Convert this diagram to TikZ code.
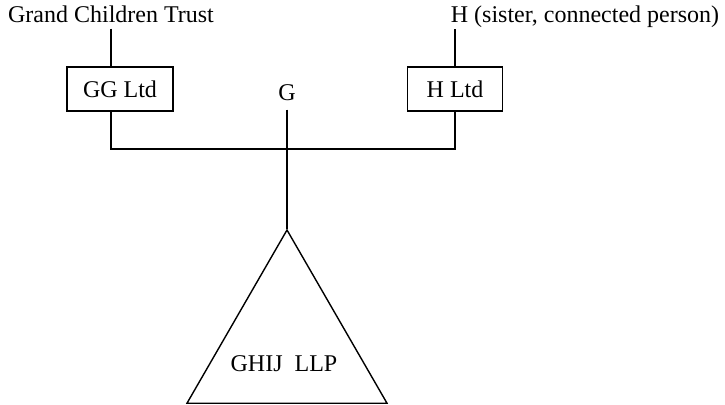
\documentclass[tikz,border=0pt]{standalone}
\usepackage{fontspec}
\setmainfont{Liberation Serif}
\usepackage{tikz}
\usetikzlibrary{shapes.geometric, positioning, calc}
\definecolor{mydark}{RGB}{0,0,0}
\tikzset{
  owner/.style={font=\fontsize{24}{28}\selectfont, text depth=0.22em, anchor=base},
  company/.style={rectangle, draw=mydark, line width=1.4pt,
    minimum height=44pt, font=\fontsize{24}{28}\selectfont},
  partnership/.style={regular polygon, regular polygon sides=3, draw=mydark,
    line width=1.4pt, minimum size=231pt, inner sep=0pt},
  line/.style={line width=1.4pt, color=mydark}
}
\begin{document}
\begin{tikzpicture}[x=1pt, y=-1pt]
  \useasboundingbox (0,0) rectangle (725,404);

  % Owners
  \node[owner] (gct) at (111, 23) {Grand Children Trust};
  \node[owner] (h) at (585, 23) {H (sister, connected person)};
  \node[owner] (g) at (287, 100) {G};

  % Companies
  \node[company, minimum width=106pt] (ggltd) at (120, 89) {GG Ltd};
  \node[company, minimum width=95pt] (hltd) at (455, 89) {H Ltd};

  % LLP
  \node[partnership] (llp) at (287, 345.5) {};
  \node[font=\fontsize{24}{28}\selectfont] (llpname) at (284, 364) {GHIJ\ \ LLP};

  \coordinate (bus) at (287, 149);

  % Lines
  \draw[line] (gct.south) -- (gct.south |- ggltd.north);
  \draw[line] (hltd.north) -- (hltd.north |- h.south);
  \draw[line] (gct.south |- ggltd.south) -- (gct.south |- bus) -- (hltd.south |- bus) -- (hltd.south);
  \draw[line] ([yshift=-4pt]g.south) -- (llp.corner 1);
\end{tikzpicture}
\end{document}
